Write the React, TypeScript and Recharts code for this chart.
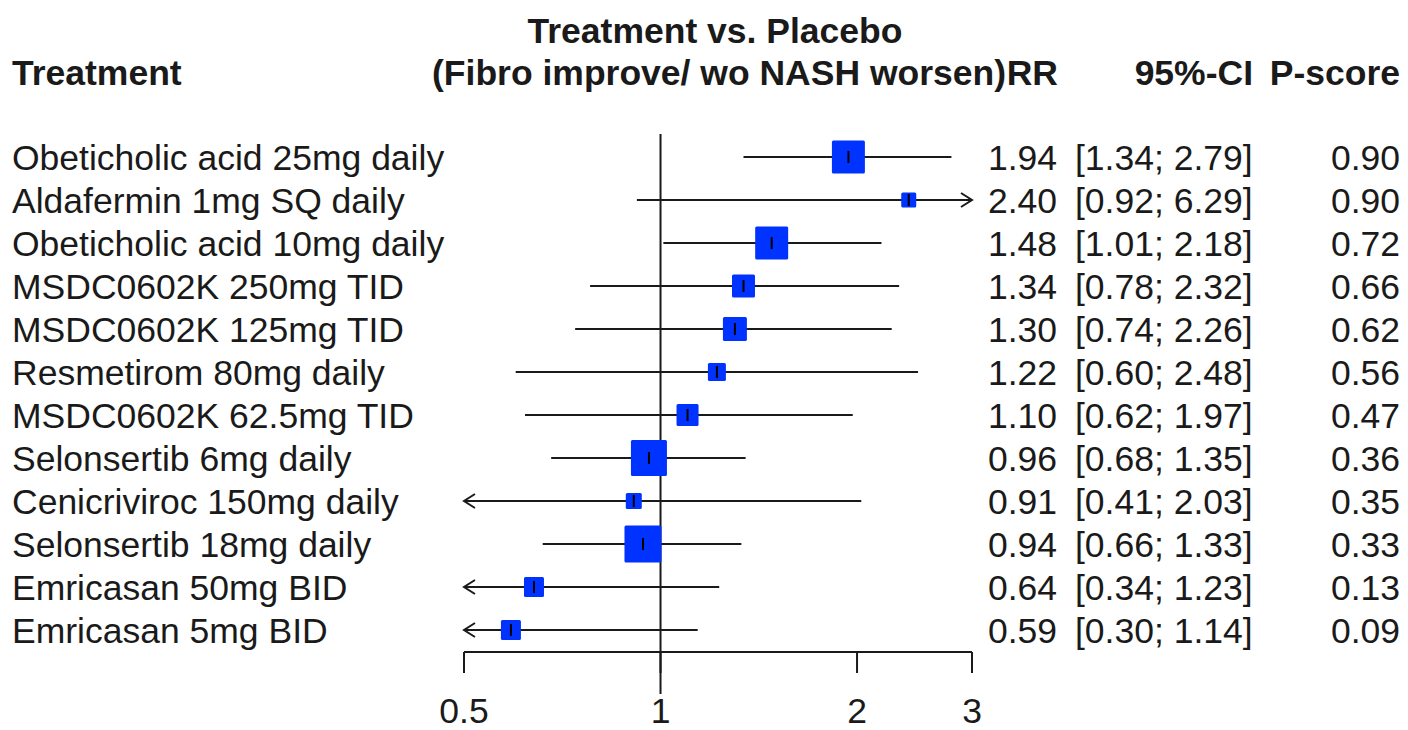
import { ScatterChart, Scatter, XAxis, YAxis, ReferenceLine } from 'recharts'

const FONT = '"Liberation Sans", Arial, Helvetica, sans-serif'

const treatments = [
  'Obeticholic acid 25mg daily',
  'Aldafermin 1mg SQ daily',
  'Obeticholic acid 10mg daily',
  'MSDC0602K 250mg TID',
  'MSDC0602K 125mg TID',
  'Resmetirom 80mg daily',
  'MSDC0602K 62.5mg TID',
  'Selonsertib 6mg daily',
  'Cenicriviroc 150mg daily',
  'Selonsertib 18mg daily',
  'Emricasan 50mg BID',
  'Emricasan 5mg BID'
]
const rr = [1.94, 2.4, 1.48, 1.34, 1.3, 1.22, 1.1, 0.96, 0.91, 0.94, 0.64, 0.59]
const ciLower = [1.34, 0.92, 1.01, 0.78, 0.74, 0.6, 0.62, 0.68, 0.41, 0.66, 0.34, 0.3]
const ciUpper = [2.79, 6.29, 2.18, 2.32, 2.26, 2.48, 1.97, 1.35, 2.03, 1.33, 1.23, 1.14]
const pScore = [0.9, 0.9, 0.72, 0.66, 0.62, 0.56, 0.47, 0.36, 0.35, 0.33, 0.13, 0.09]
// relative weights (square area), largest = 100
const weights = [79.5, 16.4, 79.5, 38.6, 42, 23.7, 35.4, 94.7, 18.7, 100, 29.2, 29.2]
const xTicks = [0.5, 1, 2, 3]

const X_MIN = xTicks[0]
const X_MAX = xTicks[xTicks.length - 1]
// y domain in row units (row 1 on top)
const Y_TOP = 0.4651
const Y_BOTTOM = 12.5116
const REF_END = 13.488

const FS = 35.5
const BLUE = '#0033ff'
const INK = '#1a1a1a'

const boxData = rr.map((v, i) => ({ x: v, y: i + 1, w: weights[i] }))

const rowData = treatments.map((name, i) => ({
  x: 1,
  y: i + 1,
  name,
  rr: rr[i].toFixed(2),
  ci: `[${ciLower[i].toFixed(2)}; ${ciUpper[i].toFixed(2)}]`,
  p: pScore[i].toFixed(2)
}))

const ciData = rr.map((_, i) => [
  { x: Math.max(ciLower[i], X_MIN), y: i + 1, arrow: ciLower[i] < X_MIN ? -1 : 0 },
  { x: Math.min(ciUpper[i], X_MAX), y: i + 1, arrow: ciUpper[i] > X_MAX ? 1 : 0 }
])

const CiEnd = (props: any) => {
  const { cx, cy, payload } = props
  if (!payload.arrow) return <g />
  const d = payload.arrow
  return (
    <polyline
      points={`${cx - d * 11},${cy - 7} ${cx},${cy} ${cx - d * 11},${cy + 7}`}
      fill="none"
      stroke={INK}
      strokeWidth={2}
    />
  )
}

const Box = (props: any) => {
  const { cx, cy, payload } = props
  const s = 37 * Math.sqrt(payload.w / 100)
  return (
    <g>
      <rect x={cx - s / 2} y={cy - s / 2} width={s} height={s} fill={BLUE} rx={1.5} />
      <line x1={cx} x2={cx} y1={cy - 6} y2={cy + 6} stroke="#000" strokeWidth={2} />
    </g>
  )
}

const RowText = (props: any) => {
  const { cy, payload } = props
  const y = cy + 12.5
  return (
    <g fontFamily={FONT} fontSize={FS} fill={INK}>
      <text x={12} y={y}>{payload.name}</text>
      <text x={1057} y={y} textAnchor="end">{payload.rr}</text>
      <text x={1075} y={y}>{payload.ci}</text>
      <text x={1400} y={y} textAnchor="end">{payload.p}</text>
    </g>
  )
}

export default function App() {
  return (
    <div style={{ position: 'absolute', left: 0, top: 0, width: 1408, height: 730, background: '#fff' }}>
      <ScatterChart
        width={1408}
        height={730}
        margin={{ top: 134, right: 436, bottom: 0, left: 464 }}
      >
        <XAxis
          type="number"
          dataKey="x"
          scale="log"
          domain={[X_MIN, X_MAX]}
          ticks={xTicks}
          height={78}
          tickSize={21}
          tickMargin={25}
          axisLine={{ stroke: INK, strokeWidth: 2 }}
          tickLine={{ stroke: INK, strokeWidth: 2 }}
          tick={{ fontSize: FS, fill: INK, fontFamily: FONT }}
        />
        <YAxis type="number" dataKey="y" domain={[Y_TOP, Y_BOTTOM]} reversed hide width={0} />
        <ReferenceLine
          segment={[{ x: 1, y: Y_TOP }, { x: 1, y: REF_END }]}
          ifOverflow="visible"
          stroke={INK}
          strokeWidth={2}
        />
        {ciData.map((d, i) => (
          <Scatter
            key={`ci-${i}`}
            data={d}
            line={{ stroke: INK, strokeWidth: 2 }}
            shape={CiEnd}
            legendType="none"
            isAnimationActive={false}
          />
        ))}
        <Scatter data={boxData} shape={Box} isAnimationActive={false} />
        <Scatter data={rowData} shape={RowText} isAnimationActive={false} />
      </ScatterChart>
      <svg
        width={1408}
        height={120}
        style={{ position: 'absolute', left: 0, top: 0, pointerEvents: 'none' }}
      >
        <g fontFamily={FONT} fontSize={FS} fontWeight="bold" fill={INK}>
          <text x={715} y={43} textAnchor="middle">Treatment vs. Placebo</text>
          <text x={12} y={85}>Treatment</text>
          <text x={1006} y={85} textAnchor="end">(Fibro improve/ wo NASH worsen)</text>
          <text x={1058} y={85} textAnchor="end">RR</text>
          <text x={1253} y={85} textAnchor="end">95%-CI</text>
          <text x={1400} y={85} textAnchor="end">P-score</text>
        </g>
      </svg>
    </div>
  )
}
